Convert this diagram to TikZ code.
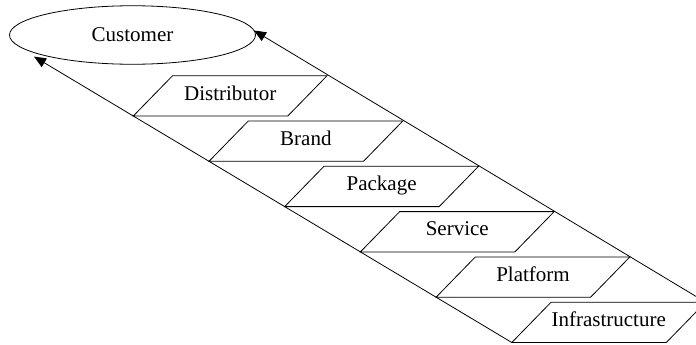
\documentclass[tikz,border=0pt]{standalone}
\usepackage{fontspec}
\setmainfont{Liberation Serif}
\usetikzlibrary{shapes.geometric,arrows.meta,calc}

\begin{document}
\begin{tikzpicture}[x=1pt,y=-1pt,
  outline/.style={draw=black,line width=0.8pt},
  labelfont/.style={font=\fontsize{21}{25}\selectfont},
  layertext/.style={labelfont, text height=0.7em, text depth=0.2em, inner sep=0pt},
  flow/.style={line width=0.8pt, -{Triangle[length=12pt,width=10pt]}}
]
\useasboundingbox (0,0) rectangle (696,345);
\clip (0,0) rectangle (696,345);

% top of the stack
\node[ellipse, outline, labelfont, minimum width=246pt, minimum height=58.5pt, inner sep=0pt] (cust) at (132.5,35) {Customer};

% the layered value chain, each layer one step down and to the right
\foreach \name/\txt [count=\i from 0] in {dist/Distributor,brand/Brand,pkg/Package,serv/Service,plat/Platform,infra/Infrastructure} {
  \coordinate (\name-bl) at (133.3+75.7*\i, 116+45.3*\i);
  \coordinate (\name-tr) at ($(\name-bl)+(193.8,-40.3)$);
  \draw[outline] (\name-bl) -- ++(154.5,0) -- (\name-tr) -- ++(-154.5,0) -- cycle;
  \node[layertext] (\name) at ($(\name-bl)+(96.9,-18.5)$) {\txt};
}

% arrow ends on the customer ellipse
\coordinate (custL) at (34,56.6);
\coordinate (custR) at (254,30.5);

\draw[flow] (infra-bl) -- (custL);
\draw[flow] (infra-tr) -- (custR);
\end{tikzpicture}
\end{document}
